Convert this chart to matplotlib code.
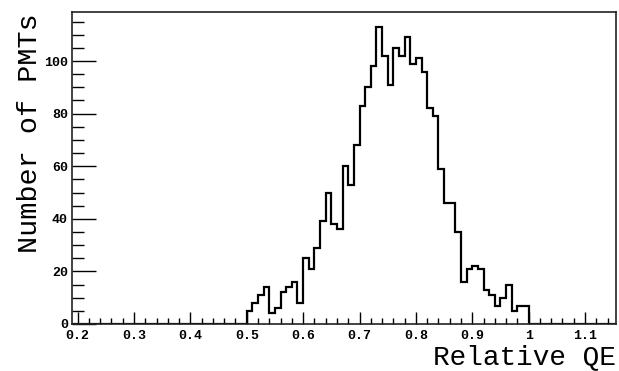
import numpy as np
import matplotlib
matplotlib.use("Agg")
import matplotlib.pyplot as plt
from matplotlib.ticker import MultipleLocator, FixedLocator

# Data: histogram of relative QE (bin width 0.01, first bin at 0.50)
bin_start = 0.50
bin_width = 0.01
counts = [5, 8, 11, 14, 4, 6, 12, 14, 16, 8,
          25, 21, 29, 39, 50, 38, 36, 60, 53, 68,
          83, 90, 98, 113, 102, 91, 105, 102, 109, 99,
          101, 96, 82, 79, 59, 46, 46, 35, 16, 21,
          22, 21, 13, 11, 7, 10, 15, 5, 7, 7]
x_range = (0.19, 1.155)
x_ticks = [0.2, 0.3, 0.4, 0.5, 0.6, 0.7, 0.8, 0.9, 1.0, 1.1]
x_ticklabels = ["0.2", "0.3", "0.4", "0.5", "0.6", "0.7", "0.8", "0.9", "1", "1.1"]
y_ticks = [0, 20, 40, 60, 80, 100]
x_title = "Relative QE"
y_title = "Number of PMTs"

counts = np.array(counts, dtype=float)
edges = bin_start + bin_width * np.arange(len(counts) + 1)

fig = plt.figure(figsize=(6.19, 3.71), dpi=100)
ax = fig.add_axes([72 / 619, 1 - 324 / 371, (616 - 72) / 619, (324 - 12) / 371])

# full outline including zero-content regions
ax.plot([x_range[0], edges[0]], [0, 0], color="black", lw=1.6, solid_capstyle="butt")
ax.plot([edges[-1], x_range[1]], [0, 0], color="black", lw=1.6, solid_capstyle="butt")
ax.stairs(counts, edges, baseline=0, fill=False, color="black", linewidth=1.6)

ax.set_xlim(*x_range)
ax.set_ylim(0, counts.max() * 1.05)

ax.xaxis.set_major_locator(FixedLocator(x_ticks))
ax.set_xticklabels(x_ticklabels)
ax.xaxis.set_minor_locator(MultipleLocator(0.02))
ax.yaxis.set_major_locator(FixedLocator(y_ticks))
ax.yaxis.set_minor_locator(MultipleLocator(5))

ax.tick_params(axis="x", which="major", direction="in", length=9, width=1, pad=4)
ax.tick_params(axis="x", which="minor", direction="in", length=4.5, width=1)
ax.tick_params(axis="y", which="major", direction="in", length=17, width=1, pad=3)
ax.tick_params(axis="y", which="minor", direction="in", length=8.5, width=1)

for lab in ax.get_xticklabels() + ax.get_yticklabels():
    lab.set_fontfamily("Liberation Mono")
    lab.set_fontweight("bold")
    lab.set_fontsize(9.5)

for sp in ax.spines.values():
    sp.set_linewidth(1.2)
    sp.set_color("#222222")

fig.text(616 / 619, 1 - 357 / 371, x_title, ha="right", va="center",
         fontfamily="Liberation Mono", fontsize=20)
fig.text(30 / 619, 1 - 13 / 371, y_title, ha="center", va="top", rotation=90,
         fontfamily="Liberation Mono", fontsize=20.5)

fig.savefig("out.png", dpi=100)
